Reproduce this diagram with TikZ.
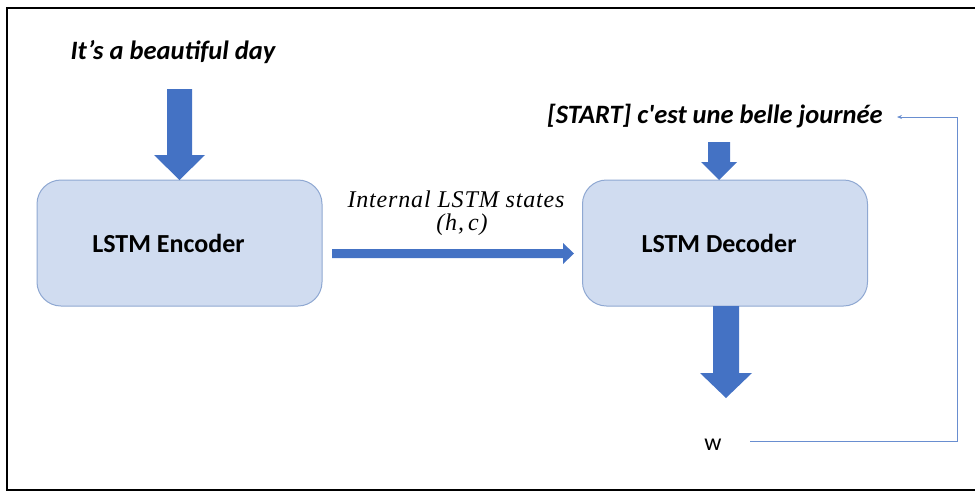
\documentclass[tikz,border=0pt]{standalone}
\usepackage{fontspec}
\setmainfont{Carlito}
\newfontfamily\lblserif[LetterSpace=3.5]{Liberation Serif}
\usetikzlibrary{arrows.meta}
\definecolor{boxfill}{HTML}{D0DCF0}
\definecolor{boxline}{HTML}{8FA8D2}
\definecolor{arrblue}{HTML}{4472C4}
\begin{document}
\begin{tikzpicture}[x=1pt,y=-1pt,
  lstmbox/.style={draw=boxline,line width=1pt,fill=boxfill,rounded corners=24pt,
    minimum width=285pt,minimum height=126pt,inner sep=0pt},
  boxtext/.style={font=\fontsize{26}{30}\selectfont\bfseries,anchor=base,inner sep=0pt},
  intext/.style={font=\fontsize{26.5}{30}\selectfont\bfseries\itshape,inner sep=0pt,anchor=base},
  lbl/.style={font=\lblserif\fontsize{24}{26}\selectfont\itshape,inner sep=0pt,anchor=base},
  fb/.style={arrblue!80,line width=0.9pt}
]
\useasboundingbox (0,0) rectangle (975,491);
% frame
\draw[line width=2.2pt,black] (990,8) -- (7,8) -- (7,490) -- (990,490);
% nodes
\node[lstmbox] (enc) at (179.5,243) {};
\node[lstmbox] (dec) at (725,243) {};
\node[boxtext] (enct) at (168.5,252) {LSTM Encoder};
\node[boxtext] (dect) at (719,252) {LSTM Decoder};
\node[intext] (in) at (173,59) {It’s a beautiful day};
\node[intext] (din) at (715,123) {[START] c\textquotesingle est une belle journée};
\node[font=\fontsize{24}{26}\selectfont,anchor=base,inner sep=2pt] (w) at (713,450) {w};
\node[lbl] (lab1) at (456,207) {Internal LSTM states};
\node[lbl] (lab2) at (462,230) {(\textit{h},\,\textit{c})};
\coordinate (fbs) at (750,441);
\coordinate (fbc1) at (957,441);
\coordinate (fbc2) at (957,117);
\coordinate (fbe) at (897,117);
% block arrows as polygons
\fill[arrblue] (167,89) -- (192,89) -- (192,155) -- (205,155) -- (179.5,180) -- (154,155) -- (167,155) -- cycle;
\fill[arrblue] (332,249) -- (563,249) -- (563,243) -- (574,253.5) -- (563,264) -- (563,258) -- (332,258) -- cycle;
\fill[arrblue] (708,142) -- (730,142) -- (730,162) -- (737,162) -- (719,180) -- (701,162) -- (708,162) -- cycle;
\fill[arrblue] (713,306) -- (739,306) -- (739,373) -- (752,373) -- (726,398) -- (700,373) -- (713,373) -- cycle;
% feedback connector
\draw[fb,-{Stealth[length=5pt,width=4pt]}] (fbs) -- (fbc1) -- (fbc2) -- (fbe);
\end{tikzpicture}
\end{document}
